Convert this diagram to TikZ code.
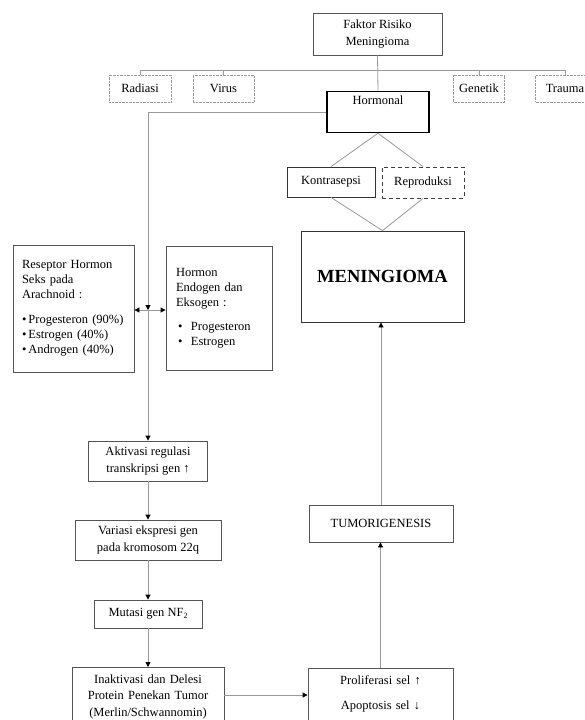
\documentclass[tikz,border=0pt]{standalone}
\usepackage{fontspec}
\setmainfont{Liberation Serif}
\usetikzlibrary{arrows.meta, positioning, calc}
\definecolor{lineGray}{HTML}{9A9A9A}
\definecolor{boxGray}{HTML}{555555}

\begin{document}
\begin{tikzpicture}[x=1pt, y=-1pt,
    font=\fontsize{12.5}{16.5}\selectfont,
    box/.style={draw=boxGray, line width=0.8pt, inner sep=0pt, align=center},
    riskbox/.style={draw=lineGray, densely dotted, inner sep=0pt, minimum height=27pt},
    listbox/.style={box, align=left, font=\fontsize{12.5}{15}\selectfont},
    conn/.style={draw=lineGray, line width=0.8pt},
    arr/.style={conn, -{Triangle[black, length=5pt, width=5pt]}},
    darr/.style={conn, {Triangle[black, length=5pt, width=5pt]}-{Triangle[black, length=5pt, width=5pt]}}]
    \useasboundingbox (0,0) rectangle (585,720);
    \fill[white] (0,0) rectangle (585,720);
    \clip (0,0) rectangle (585,720);

    % risk factors
    \node[box, minimum width=129pt, minimum height=42pt] (faktor) at (377.5,34) {Faktor Risiko\\Meningioma};
    \node[riskbox, minimum width=62pt] (rad) at (140,88.5) {Radiasi};
    \node[riskbox, minimum width=61pt] (vir) at (223.5,88.5) {Virus};
    \node[riskbox, minimum width=51pt] (gen) at (479,88.5) {Genetik};
    \node[riskbox, minimum width=59pt] (tra) at (565,88.5) {Trauma};
    \node[box, draw=black, line width=1.2pt, anchor=north, minimum width=102pt, text height=13pt, text depth=28pt] (horm) at (378,91) {Hormonal};

    \coordinate (bus) at (378,70);
    \draw[conn] (faktor.south) -- (horm.north);
    \draw[conn] (rad.north) -- (rad.north |- bus) -- (tra.north |- bus) -- (tra.north);
    \foreach \r in {vir, gen}
      \draw[conn] (\r.north) -- (\r.north |- bus);

    % right branch
    \node[box, draw=black!80, minimum width=88pt, minimum height=30pt] (kon) at (331,182) {Kontrasepsi};
    \node[box, draw=black!75, dash pattern=on 4pt off 3pt, minimum width=82pt, minimum height=31pt] (rep) at (423,182.5) {Reproduksi};
    \node[box, draw=black!80, minimum width=163pt, minimum height=91pt, font=\fontsize{18.5}{20}\selectfont\bfseries] (men) at (382.5,276.5) {MENINGIOMA};
    \draw[conn] (kon.north) -- (horm.south) -- (rep.north);
    \draw[conn] (kon.south) -- (men.north) -- (rep.south);

    % hormone receptors
    \node[listbox, text width=103pt, inner xsep=9pt, minimum height=127pt] (res) at (73.5,308.5)
      {Reseptor Hormon\\Seks pada\\Arachnoid :\\[10pt]\textbullet\,Progesteron (90\%)\\\textbullet\,Estrogen (40\%)\\\textbullet\,Androgen (40\%)};
    \node[listbox, text width=86pt, inner xsep=10pt, minimum height=124pt] (endo) at (219,308)
      {Hormon\\Endogen dan\\Eksogen :\\[9pt]\hspace{2pt}\makebox[13pt][l]{\textbullet}Progesteron\\\hspace{2pt}\makebox[13pt][l]{\textbullet}Estrogen};

    \coordinate (jn) at (148,310);
    \draw[arr] (horm.west) -| (jn);
    \draw[darr] (jn -| res.east) -- (jn -| endo.west);

    % left chain
    \node[box, minimum width=119pt, minimum height=40pt] (akt) at (148,461) {Aktivasi regulasi\\transkripsi gen ↑};
    \node[box, minimum width=146pt, minimum height=40pt] (var) at (148,540) {Variasi ekspresi gen\\pada kromosom 22q};
    \node[box, minimum width=108pt, minimum height=28pt] (mut) at (148,614) {Mutasi gen NF{\fontsize{8}{8}\selectfont\raisebox{-1.5pt}{2}}};
    \node[box, anchor=north, text width=152pt, inner ysep=7pt] (ina) at (148,667)
      {Inaktivasi dan Delesi\\Protein Penekan Tumor\\(Merlin/Schwannomin)\\\mbox{}};
    \draw[arr] (jn) -- (jn |- akt.north);
    \draw[arr] (akt.south) -- (var.north);
    \draw[arr] (var.south) -- (mut.north);
    \draw[arr] (mut.south) -- (ina.north);

    % tumour growth
    \node[box, anchor=north, text width=145pt, inner ysep=7pt] (pro) at (380.5,668)
      {Proliferasi sel ↑\\[8.5pt]Apoptosis sel ↓\\[6pt]\mbox{}};
    \node[box, minimum width=144pt, minimum height=37pt] (tum) at (381,523.5) {TUMORIGENESIS};
    \draw[arr] (ina.east |- 0,695) -- (pro.west |- 0,695);
    \draw[arr] (pro.north) -- (pro.north |- tum.south);
    \draw[arr] (tum.north) -- (tum.north |- men.south);
  \end{tikzpicture}
\end{document}
